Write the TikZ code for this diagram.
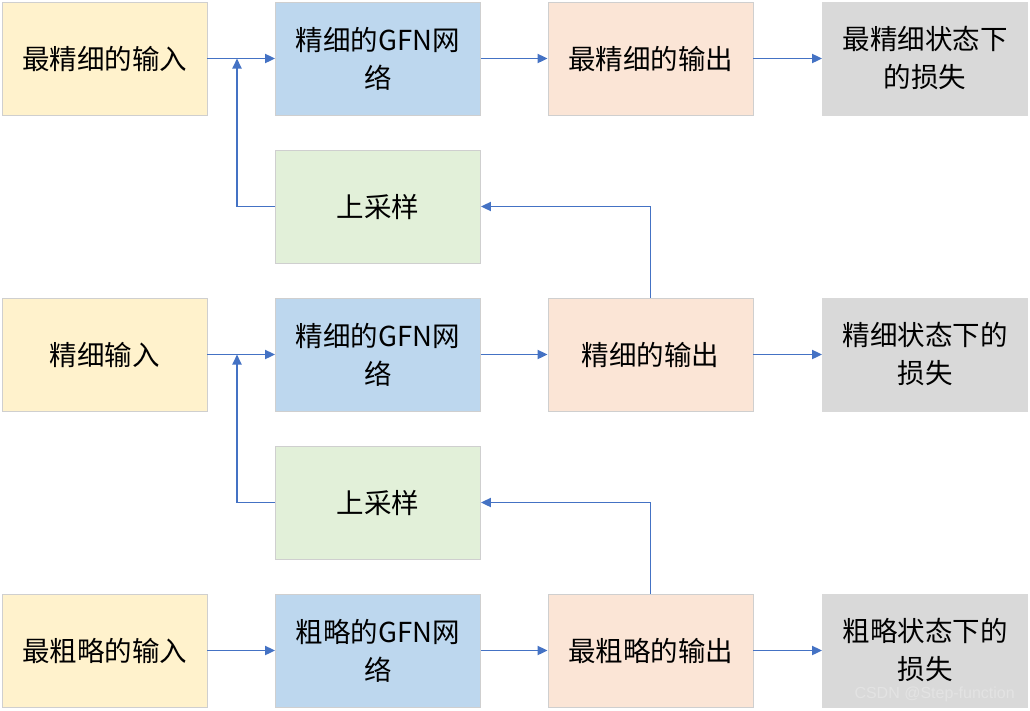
\documentclass[tikz,border=0pt]{standalone}
\usepackage{fontspec}
\setmainfont{Noto Sans CJK SC}
\newfontfamily\wmfont{Liberation Sans}
\usetikzlibrary{arrows.meta}
\definecolor{cyellow}{HTML}{FFF2CC}
\definecolor{cblue}{HTML}{BDD7EE}
\definecolor{cpeach}{HTML}{FBE5D6}
\definecolor{cgreen}{HTML}{E2F0D9}
\definecolor{cgray}{HTML}{D9D9D9}
\definecolor{cborder}{HTML}{CFCFCF}
\definecolor{carrow}{HTML}{4472C4}
\tikzset{
  box/.style={draw=cborder, line width=0.8pt, minimum width=205pt, minimum height=113pt,
    inner sep=0pt, align=center, font=\fontsize{27.5}{38}\selectfont, text=black},
  inbox/.style={box, fill=cyellow},
  netbox/.style={box, fill=cblue},
  outbox/.style={box, fill=cpeach},
  upbox/.style={box, fill=cgreen},
  lossbox/.style={box, fill=cgray, draw=cgray},
  conn/.style={draw=carrow, line width=1.8pt, -{Triangle[length=10pt,width=9pt]}},
}
\begin{document}
\begin{tikzpicture}[x=1pt,y=-1pt]
\useasboundingbox (0,0) rectangle (1030,710);
\fill[white] (0,0) rectangle (1030,710);
% row 1
\node[inbox] (in1) at (104.5,58.5) {最精细的输入};
\node[netbox] (net1) at (378,58.5) {精细的GFN网\\络};
\node[outbox] (out1) at (650.5,58.5) {最精细的输出};
\node[lossbox] (loss1) at (925,58.5) {最精细状态下\\的损失};
% upsample 1
\node[upbox] (up1) at (378,206.5) {上采样};
% row 2
\node[inbox] (in2) at (104.5,354.5) {精细输入};
\node[netbox] (net2) at (378,354.5) {精细的GFN网\\络};
\node[outbox] (out2) at (650.5,354.5) {精细的输出};
\node[lossbox] (loss2) at (925,354.5) {精细状态下的\\损失};
% upsample 2
\node[upbox] (up2) at (378,502.5) {上采样};
% row 3
\node[inbox] (in3) at (104.5,650.5) {最粗略的输入};
\node[netbox] (net3) at (378,650.5) {粗略的GFN网\\络};
\node[outbox] (out3) at (650.5,650.5) {最粗略的输出};
\node[lossbox] (loss3) at (925,650.5) {粗略状态下的\\损失};
% junctions
\coordinate (j1) at (237,58.5);
\coordinate (j2) at (237,354.5);
% connectors
\foreach \r in {1,2,3}{
  \draw[conn] (in\r) -- (net\r);
  \draw[conn] (net\r) -- (out\r);
  \draw[conn] (out\r) -- (loss\r);
}
\draw[conn] (up1.west) -| (j1);
\draw[conn] (up2.west) -| (j2);
\draw[conn] (out2.north) |- (up1.east);
\draw[conn] (out3.north) |- (up2.east);
% watermark
\node[font=\wmfont\fontsize{16}{16}\selectfont, text=white!78!gray, anchor=east, inner sep=0pt] (wm) at (1015,694) {CSDN @Step-function};
\end{tikzpicture}
\end{document}
